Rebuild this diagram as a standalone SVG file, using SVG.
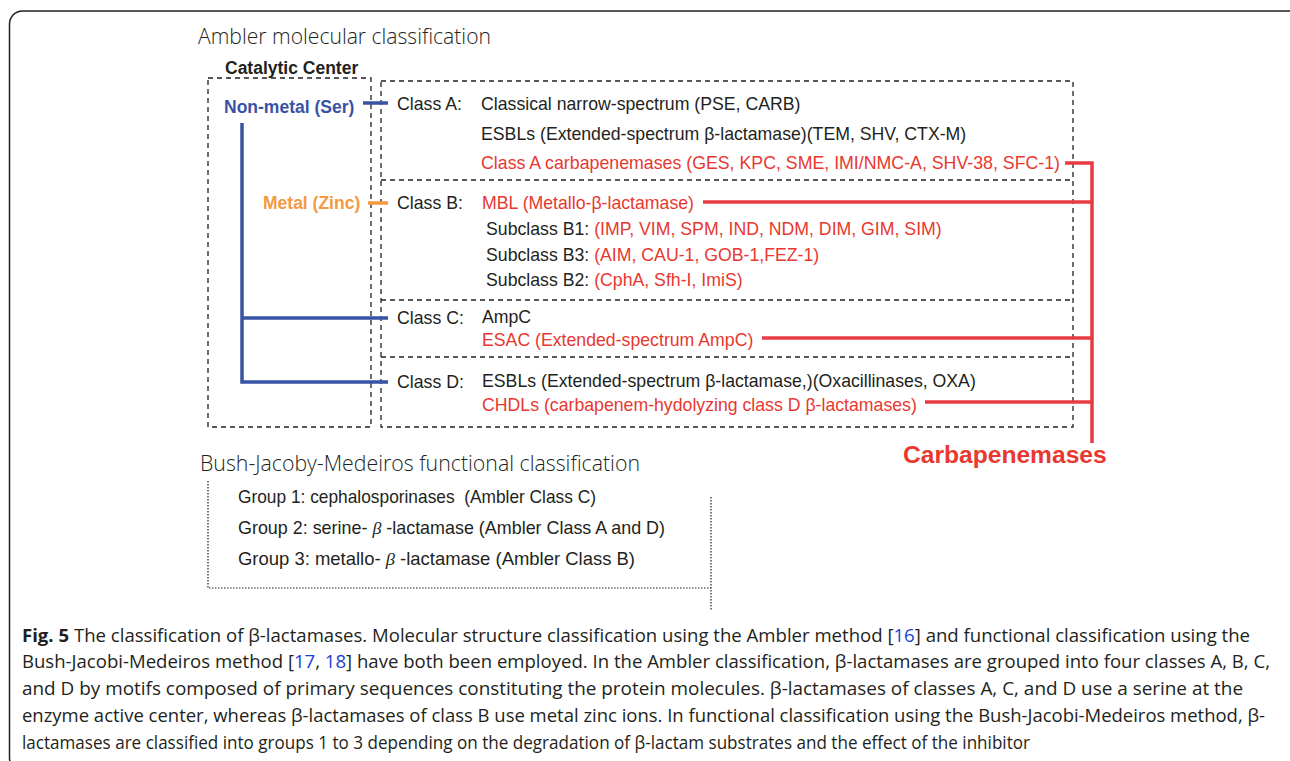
<svg xmlns="http://www.w3.org/2000/svg" width="1290" height="761" viewBox="0 0 1290 761">
<style>
.t{font-family:"Liberation Sans",Arial,sans-serif;font-size:17.7px;fill:#231f20}
.r{fill:#e8382f}
.b{font-weight:bold}
.h{font-family:"Open Sans","Noto Sans",sans-serif;font-weight:300;font-size:22px;fill:#231f20}
.cap{font-family:"Open Sans","Noto Sans",sans-serif;font-size:18px;fill:#231f20}
.lnk{fill:#1a3fd6}
.dash{fill:none;stroke:#231f20;stroke-width:1.3;stroke-dasharray:5 4}
.dot{fill:none;stroke:#231f20;stroke-width:1.2;stroke-dasharray:1.5 1.5}
.blue{fill:none;stroke:#3953a4;stroke-width:3.5}
.org{fill:none;stroke:#f39a40;stroke-width:3.5}
.red{fill:none;stroke:#e83a45;stroke-width:3.5}
</style>
<rect x="9.5" y="11" width="1300" height="760" rx="13" fill="none" stroke="#231f20" stroke-width="1.5"/>
<g id="title-ambler"><text class="h" x="198" y="44" textLength="293" lengthAdjust="spacingAndGlyphs">Ambler molecular classification</text></g>
<g id="catalytic-center">
<text class="t b" x="225" y="74" style="font-size:17.5px">Catalytic Center</text>
<rect class="dash" x="208" y="78" width="163" height="349"/>
</g>
<g id="non-metal"><text class="t b" x="224" y="113" style="fill:#3953a4;font-size:17.5px">Non-metal (Ser)</text></g>
<g id="metal"><text class="t b" x="263" y="209" style="fill:#f39a40;font-size:17.5px">Metal (Zinc)</text></g>
<g id="class-box">
<rect class="dash" x="381" y="81" width="692" height="346"/>
<line class="dash" x1="381" y1="180" x2="1073" y2="180"/>
<line class="dash" x1="381" y1="300" x2="1073" y2="300"/>
<line class="dash" x1="381" y1="357" x2="1073" y2="357"/>
</g>
<g id="class-a">
<text class="t" x="397" y="110">Class A:</text>
<text class="t" x="481" y="110">Classical narrow-spectrum (PSE, CARB)</text>
<text class="t" x="481" y="140">ESBLs (Extended-spectrum β-lactamase)(TEM, SHV, CTX-M)</text>
<text class="t r" x="481" y="169" textLength="579" lengthAdjust="spacingAndGlyphs">Class A carbapenemases (GES, KPC, SME, IMI/NMC-A, SHV-38, SFC-1)</text>
</g>
<g id="class-b">
<text class="t" x="397" y="209">Class B:</text>
<text class="t r" x="482" y="209">MBL (Metallo-β-lactamase)</text>
<text class="t" x="486" y="235">Subclass B1: <tspan class="r">(IMP, VIM, SPM, IND, NDM, DIM, GIM, SIM)</tspan></text>
<text class="t" x="486" y="261">Subclass B3: <tspan class="r">(AIM, CAU-1, GOB-1,FEZ-1)</tspan></text>
<text class="t" x="486" y="286">Subclass B2: <tspan class="r">(CphA, Sfh-I, ImiS)</tspan></text>
</g>
<g id="class-c">
<text class="t" x="397" y="324">Class C:</text>
<text class="t" x="482" y="323">AmpC</text>
<text class="t r" x="482" y="346">ESAC (Extended-spectrum AmpC)</text>
</g>
<g id="class-d">
<text class="t" x="397" y="388">Class D:</text>
<text class="t" x="482" y="387">ESBLs (Extended-spectrum β-lactamase,)(Oxacillinases, OXA)</text>
<text class="t r" x="482" y="411">CHDLs (carbapenem-hydolyzing class D β-lactamases)</text>
</g>
<g id="carbapenemases"><text class="t b" x="903" y="463" style="font-size:24.6px;fill:#e8382f">Carbapenemases</text></g>
<g id="connectors">
<line class="blue" x1="363" y1="103" x2="388" y2="103"/>
<line class="org" x1="368" y1="203" x2="388" y2="203"/>
<polyline class="blue" points="242,123 242,382 388,382"/>
<line class="blue" x1="242" y1="318" x2="388" y2="318"/>
<polyline class="red" points="1065,163 1092,163 1092,443"/>
<line class="red" x1="703" y1="202" x2="1092" y2="202"/>
<line class="red" x1="762" y1="338" x2="1092" y2="338"/>
<line class="red" x1="925" y1="402" x2="1092" y2="402"/>
</g>
<g id="title-bjm"><text class="h" x="200" y="471" textLength="440" lengthAdjust="spacingAndGlyphs">Bush-Jacoby-Medeiros functional classification</text></g>
<g id="bjm-groups">
<polyline class="dot" points="208,481 208,588 711,588"/>
<line class="dot" x1="711" y1="497" x2="711" y2="611"/>
<text class="t" x="238" y="503" textLength="358" lengthAdjust="spacingAndGlyphs">Group 1: cephalosporinases &#160;(Ambler Class C)</text>
<text class="t" x="238" y="534" textLength="427" lengthAdjust="spacingAndGlyphs">Group 2: serine- <tspan style="font-family:'Liberation Serif',serif;font-style:italic">β</tspan> -lactamase (Ambler Class A and D)</text>
<text class="t" x="238" y="565" textLength="397" lengthAdjust="spacingAndGlyphs">Group 3: metallo- <tspan style="font-family:'Liberation Serif',serif;font-style:italic">β</tspan> -lactamase (Ambler Class B)</text>
</g>
<g id="caption">
<text class="cap" x="22" y="642" textLength="1228" lengthAdjust="spacingAndGlyphs"><tspan font-weight="bold">Fig. 5</tspan> The classification of β-lactamases. Molecular structure classification using the Ambler method [<tspan class="lnk">16</tspan>] and functional classification using the</text>
<text class="cap" x="22" y="668" textLength="1248" lengthAdjust="spacingAndGlyphs">Bush-Jacobi-Medeiros method [<tspan class="lnk">17</tspan>, <tspan class="lnk">18</tspan>] have both been employed. In the Ambler classification, β-lactamases are grouped into four classes A, B, C,</text>
<text class="cap" x="22" y="695" textLength="1221" lengthAdjust="spacingAndGlyphs">and D by motifs composed of primary sequences constituting the protein molecules. β-lactamases of classes A, C, and D use a serine at the</text>
<text class="cap" x="22" y="722" textLength="1243" lengthAdjust="spacingAndGlyphs">enzyme active center, whereas β-lactamases of class B use metal zinc ions. In functional classification using the Bush-Jacobi-Medeiros method, β-</text>
<text class="cap" x="22" y="749" textLength="1008" lengthAdjust="spacingAndGlyphs">lactamases are classified into groups 1 to 3 depending on the degradation of β-lactam substrates and the effect of the inhibitor</text>
</g>
</svg>
